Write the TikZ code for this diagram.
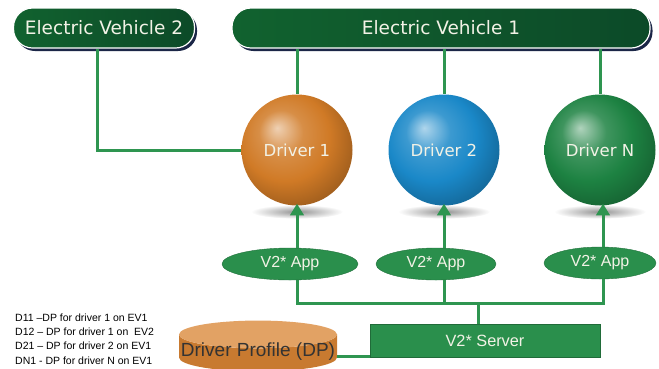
\documentclass[tikz,border=0pt]{standalone}
\usepackage{fontspec}
\setmainfont{DejaVu Sans}
\newfontfamily\arialf{Liberation Sans}
\usepackage{tikz}
\usetikzlibrary{arrows.meta,shapes.geometric,shadows,backgrounds}
\definecolor{evdark}{HTML}{0C4A28}
\definecolor{evmid}{HTML}{1F8046}
\definecolor{evleft}{HTML}{11622F}
\definecolor{evshadow}{HTML}{1B2647}
\definecolor{lnk}{HTML}{2E9550}
\definecolor{appg}{HTML}{2A8F4C}
\definecolor{drvor}{HTML}{D07A26}
\definecolor{drvbl}{HTML}{1A88C8}
\definecolor{drvgr}{HTML}{1D8242}
\definecolor{dpbody}{HTML}{C87A30}
\definecolor{dptop}{HTML}{E2A264}
\definecolor{txtw}{HTML}{F2F2E6}
\makeatletter
\pgfdeclareradialshading[tikz@ball]{sphere}{\pgfpoint{-9bp}{10bp}}{%
  color(0bp)=(tikz@ball!35!white); color(10bp)=(tikz@ball!85!white);
  color(20bp)=(tikz@ball); color(33bp)=(tikz@ball!72!black);
  color(50bp)=(tikz@ball!72!black)}
\makeatother

\begin{document}
\begin{tikzpicture}[x=1pt,y=-1pt,>=Triangle,
  ev/.style={draw=white,line width=1.2pt,rounded corners=19pt,minimum height=40,
             left color=evleft,middle color=evmid,right color=evdark,
             text=txtw,font=\fontsize{18.5}{20}\selectfont,
             drop shadow={shadow xshift=2.5pt,shadow yshift=-3pt,fill=evshadow,opacity=1}},
  drv/.style={circle,minimum size=111,inner sep=0pt,text=txtw,
              font=\fontsize{16.5}{18}\selectfont},
  app/.style={ellipse,fill=appg,draw=appg!80!black,minimum height=32,inner sep=0pt,
              text=txtw,font=\arialf\fontsize{16}{18}\selectfont},
  lnk/.style={draw=lnk,line width=3pt},
  arr/.style={lnk,->,shorten >=-2pt}]
\useasboundingbox (0,0) rectangle (659,368);
% vehicles
\node[ev,minimum width=181] (ev2) at (104,28) {Electric Vehicle 2};
\node[ev,minimum width=418] (ev1) at (441,28) {Electric Vehicle 1};
% drivers
\node[drv,ball color=drvor,shading=sphere] (d1) at (297,150) {Driver 1};
\node[drv,ball color=drvbl,shading=sphere] (d2) at (444,150) {Driver 2};
\node[drv,ball color=drvgr,shading=sphere] (dn) at (600,150) {Driver N};
\begin{scope}[on background layer]
\foreach \d in {d1,d2,dn}
  \shade[inner color=gray!85,outer color=white] ([yshift=-6pt]\d.south) ellipse (46 and 7);
\end{scope}
% apps
\node[app,minimum width=136] (app1) at (290,264) {V2* App};
\node[app,minimum width=120] (app2) at (436,264) {V2* App};
\node[app,minimum width=112] (appn) at (600,263) {V2* App};
% server and profile store
\node[fill=appg,draw=appg!75!black,minimum width=230,minimum height=33,inner sep=0pt,
      text=txtw,font=\arialf\fontsize{16.3}{18}\selectfont] (srv) at (485,341) {V2* Server};
\node[cylinder,shape border rotate=90,aspect=0.18,minimum width=158,minimum height=42,
      inner sep=0pt,text height=8pt,text depth=1pt,
      cylinder uses custom fill,cylinder body fill=dpbody,cylinder end fill=dptop,
      text=black!80,font=\arialf\fontsize{19}{20}\selectfont] (dp) at (258,353) {Driver Profile (DP)};
\node[anchor=north west,align=left,inner sep=0pt,
      font=\arialf\fontsize{10.5}{14.3}\selectfont] (key) at (15,313.5)
  {D11 –DP for driver 1 on EV1\\D12 – DP for driver 1 on \ EV2\\
   D21 – DP for driver 2 on EV1\\DN1 - DP for driver N on EV1};
\coordinate (bus) at (0,303);
% links
\draw[lnk] ([xshift=-7pt]ev2.south) |- (d1.west);
\foreach \d in {d1,d2,dn}
  \draw[lnk] (ev1.south -| \d) -- (\d.north);
\draw[arr] (app1.north -| d1) -- (d1.south);
\draw[arr] (app2.north -| d2) -- (d2.south);
\draw[arr] ([xshift=3pt]appn.north) -- ([xshift=3pt]dn.south);
\draw[lnk] (app1.south -| d1) -- (bus -| d1) -- ([xshift=3pt]bus -| appn) -- ([xshift=3pt]appn.south);
\draw[lnk] (app2.south -| d2) -- (bus -| d2);
\draw[lnk] ([xshift=-7pt]srv.north) -- ([xshift=-7pt]bus -| srv);
\draw[lnk] ([yshift=-3pt]dp.east) -- ([yshift=-3pt]dp.east -| srv.west);
\end{tikzpicture}
\end{document}
